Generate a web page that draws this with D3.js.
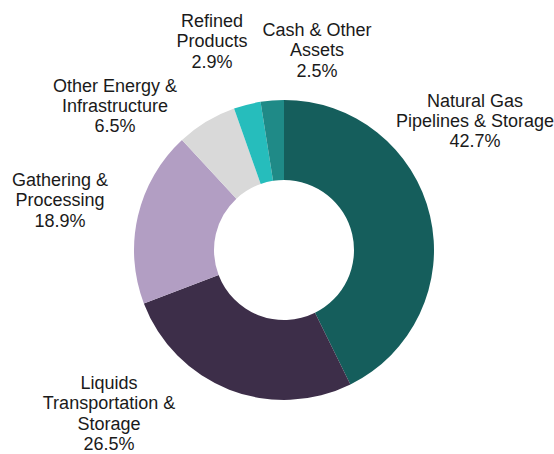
<!DOCTYPE html>
<html lang="en">
<head>
  <meta charset="UTF-8">
  <title>Asset mix</title>
  <style>
    body { margin: 0; background: #fff; }
    text { font-family: "Liberation Sans", Arial, sans-serif; font-size: 18px; fill: #1a1a1a; }
  </style>
</head>
<body>
  <svg id="svg" width="554" height="454"></svg>

  <script src="https://d3js.org/d3.v7.min.js"></script>
  <script>
    // data (clockwise from 12 o'clock)
    const categories = [
      'Natural Gas Pipelines & Storage',
      'Liquids Transportation & Storage',
      'Gathering & Processing',
      'Other Energy & Infrastructure',
      'Refined Products',
      'Cash & Other Assets'
    ]
    const shares = [42.7, 26.5, 18.9, 6.5, 2.9, 2.5]
    const labelLines = [
      ['Natural Gas', 'Pipelines & Storage'],
      ['Liquids', 'Transportation &', 'Storage'],
      ['Gathering &', 'Processing'],
      ['Other Energy &', 'Infrastructure'],
      ['Refined', 'Products'],
      ['Cash & Other', 'Assets']
    ]
    const colors = ['#155e5c', '#3d2e49', '#b29ec3', '#d9d9d9', '#26bdbc', '#1f8a87']

    // where each label block sits: centre x, first baseline y
    const labelAnchor = [
      [475, 106.5], [109, 389], [60, 186], [115, 91.5], [212, 27], [317, 36]
    ]
    const lineGap = 20.4

    const cx = 284, cy = 250
    const outerR = 150, innerR = 70

    const data = categories.map((c, i) => ({ name: c, value: shares[i], lines: labelLines[i] }))

    const color = d3.scaleOrdinal().domain(categories).range(colors)

    const pie = d3.pie().sort(null).value(d => d.value)
    const arc = d3.arc().innerRadius(innerR).outerRadius(outerR)

    const svg = d3.select('#svg')

    svg.append('g')
      .attr('transform', `translate(${cx},${cy})`)
      .selectAll('path')
      .data(pie(data))
      .enter()
      .append('path')
      .attr('d', arc)
      .attr('fill', d => color(d.data.name))

    // labels
    const labels = svg.append('g')
      .selectAll('text')
      .data(data)
      .enter()
      .append('text')
      .attr('text-anchor', 'middle')

    labels.each(function (d, i) {
      const [x, y] = labelAnchor[i]
      const rows = d.lines.concat([d3.format('.1f')(d.value) + '%'])
      d3.select(this).selectAll('tspan')
        .data(rows)
        .enter()
        .append('tspan')
        .attr('x', x)
        .attr('y', (r, j) => y + j * lineGap)
        .text(r => r)
    })
  </script>
</body>
</html>
